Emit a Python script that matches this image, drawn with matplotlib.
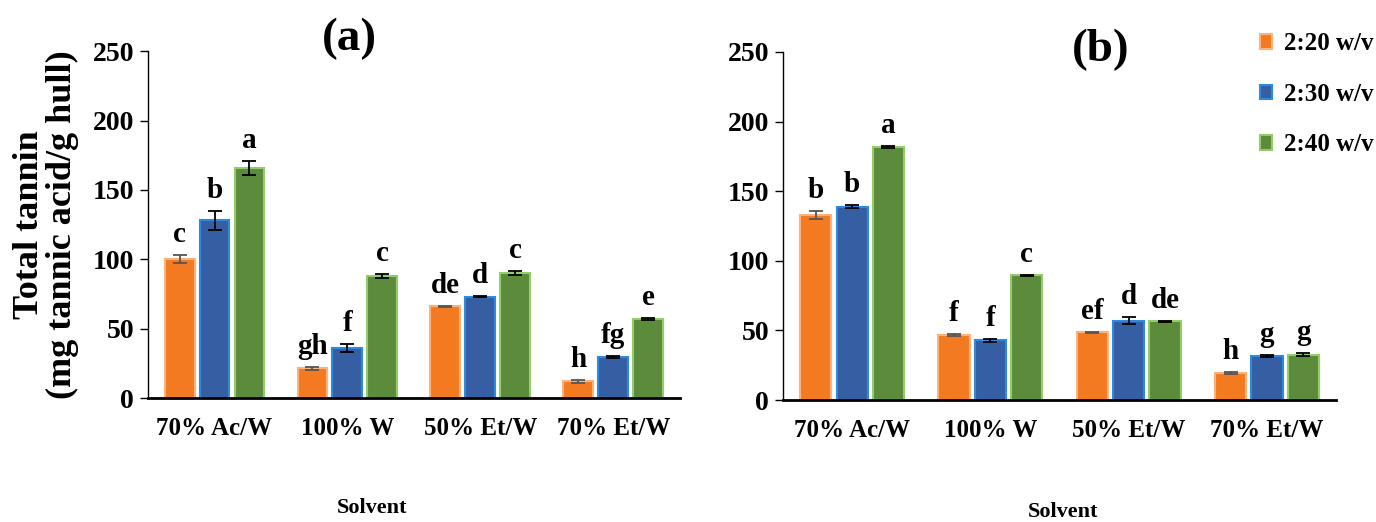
import numpy as np
import matplotlib.pyplot as plt
from matplotlib.patches import Patch

plt.rcParams['font.family'] = ['Liberation Serif', 'DejaVu Serif']
plt.rcParams['font.weight'] = 'bold'

solvents = ['70% Ac/W', '100% W', '50% Et/W', '70% Et/W']
ratios = ['2:20 w/v', '2:30 w/v', '2:40 w/v']

# panel (a) - mean total tannin, error and letters (order: 2:20, 2:30, 2:40)
a_mean = [[100, 21.5, 66, 12],
          [128, 36, 73, 29.5],
          [166, 88, 90, 57]]
a_err = [[3, 1, 0.5, 1],
         [7, 3, 0.5, 0.8],
         [5, 1.5, 1.5, 0.8]]
a_let = [['c', 'gh', 'de', 'h'],
         ['b', 'f', 'd', 'fg'],
         ['a', 'c', 'c', 'e']]

# panel (b)
b_mean = [[133, 47, 48.5, 19.5],
          [139, 43, 57, 31.5],
          [182, 89.5, 56.5, 32.5]]
b_err = [[3, 0.7, 0.7, 0.7],
         [1, 1, 2.5, 0.8],
         [0.7, 0.5, 0.5, 1]]
b_let = [['b', 'f', 'ef', 'h'],
         ['b', 'f', 'd', 'g'],
         ['a', 'c', 'de', 'g']]

face = ['#f47a22', '#365fa3', '#5c8b3b']
edge = ['#fbb27c', '#2b8be0', '#93cc6a']
ecol = ['#555555', 'black', 'black']

fig = plt.figure(figsize=(13.76, 5.22), dpi=100)
ax1 = fig.add_axes([0.1076, 0.2375, 0.3864, 0.6645])
ax2 = fig.add_axes([0.569, 0.2337, 0.402, 0.6667])

x = np.arange(len(solvents))
w = 0.225
off = 0.263

def draw(ax, mean, err, let):
    for k in range(3):
        xs = x + (k - 1) * off
        ax.bar(xs, mean[k], w, color=face[k], edgecolor=edge[k], linewidth=1.5, zorder=2)
        ax.errorbar(xs, mean[k], yerr=err[k], fmt='none', ecolor=ecol[k],
                    elinewidth=1.3, capsize=5, capthick=1.3, zorder=3)
        for xi, m, e, t in zip(xs, mean[k], err[k], let[k]):
            ax.text(xi, m + e + 5, t, ha='center', va='bottom', fontsize=21, fontweight='bold')
    ax.set_xlim(-0.5, 3.5)
    ax.set_ylim(0, 250)
    ax.set_yticks(range(0, 251, 50))
    ax.set_xticks(x)
    ax.set_xticklabels(solvents)
    ax.tick_params(axis='x', length=0, labelsize=18, pad=14)
    ax.tick_params(axis='y', length=6, width=1, labelsize=20, pad=4)
    for s in ['top', 'right']:
        ax.spines[s].set_visible(False)
    ax.spines['left'].set_linewidth(1)
    ax.spines['bottom'].set_linewidth(2)

draw(ax1, a_mean, a_err, a_let)
draw(ax2, b_mean, b_err, b_let)

ax1.set_ylabel('Total tannin\n(mg tannic acid/g hull)', fontsize=26, fontweight='bold',
               linespacing=1.0, labelpad=10)

fig.text(372 / 1376, 1 - 508 / 522, 'Solvent', fontsize=16, fontweight='bold',
         ha='center', va='center')
fig.text(1063 / 1376, 1 - 512 / 522, 'Solvent', fontsize=16, fontweight='bold',
         ha='center', va='center')

fig.text(0.254, 0.925, '(a)', fontsize=34, fontweight='bold', ha='center', va='center')
fig.text(0.800, 0.905, '(b)', fontsize=34, fontweight='bold', ha='center', va='center')

handles = [Patch(facecolor=face[k], edgecolor=edge[k], linewidth=1.5) for k in range(3)]
fig.legend(handles, ratios, loc='upper right', bbox_to_anchor=(1.007, 0.962), frameon=False,
           fontsize=18, handlelength=0.5, handleheight=0.5, handletextpad=0.45,
           labelspacing=1.1, borderaxespad=0.1)

fig.savefig('out.png', dpi=100)
